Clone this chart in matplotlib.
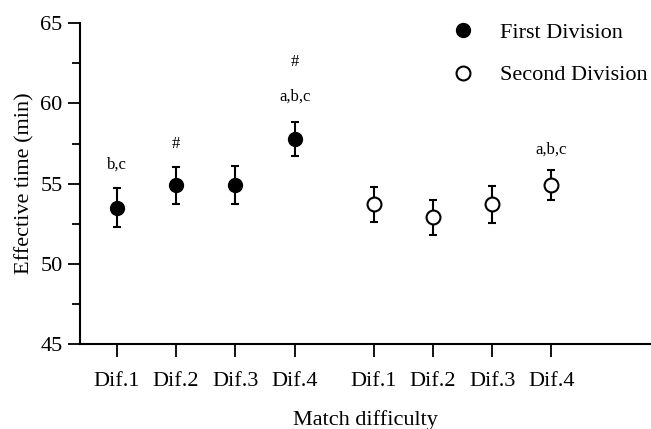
import matplotlib
matplotlib.use("Agg")
import matplotlib.pyplot as plt
from matplotlib.lines import Line2D
from matplotlib.ticker import MultipleLocator

plt.rcParams['font.family'] = ['Liberation Serif', 'DejaVu Serif']

# data
tick_labels = ["Dif.1", "Dif.2", "Dif.3", "Dif.4"]
first_x = [1, 2, 3, 4]
second_x = [5.33, 6.33, 7.33, 8.33]
first_mean = [53.5, 54.9, 54.9, 57.8]
first_err = [1.2, 1.15, 1.2, 1.05]
second_mean = [53.7, 52.9, 53.7, 54.9]
second_err = [1.1, 1.1, 1.15, 0.95]

# significance labels: (x, y, text)
annotations = [
    (1, 56.2, "b,c"),
    (2, 57.5, "#"),
    (4, 60.4, "a,b,c"),
    (4, 62.6, "#"),
    (8.33, 57.1, "a,b,c"),
]

fig = plt.figure(figsize=(6.51, 4.29), dpi=100)
ax = fig.add_axes([0.123, 0.198, 0.876, 0.748])

ax.errorbar(first_x, first_mean, yerr=first_err, fmt='o', color='black',
            markerfacecolor='black', markersize=10, elinewidth=1.5,
            capsize=3, capthick=1.5)
ax.errorbar(second_x, second_mean, yerr=second_err, fmt='o', color='black',
            markerfacecolor='white', markeredgewidth=1.5, markersize=10,
            elinewidth=1.5, capsize=3, capthick=1.5)

for x, y, t in annotations:
    ax.text(x, y, t, ha='center', va='center', fontsize=12)

ax.set_xlim(0.38, 10.0)
ax.set_ylim(45, 65)
ax.set_xticks(first_x + second_x)
ax.set_xticklabels(tick_labels * 2, fontsize=16)
ax.yaxis.set_major_locator(MultipleLocator(5))
ax.yaxis.set_minor_locator(MultipleLocator(2.5))
ax.tick_params(axis='y', labelsize=16, length=9, width=1.3)
ax.tick_params(axis='y', which='minor', length=6, width=1.3)
ax.tick_params(axis='x', length=9, width=1.3, pad=11)

for s in ['top', 'right']:
    ax.spines[s].set_visible(False)
for s in ['left', 'bottom']:
    ax.spines[s].set_linewidth(1.5)

ax.set_ylabel("Effective time (min)", fontsize=16)
ax.set_xlabel("Match difficulty", fontsize=16, labelpad=14)

handles = [
    Line2D([], [], marker='o', linestyle='none', color='black',
           markerfacecolor='black', markersize=10),
    Line2D([], [], marker='o', linestyle='none', color='black',
           markerfacecolor='white', markeredgewidth=1.5, markersize=10),
]
fig.legend(handles, ["First Division", "Second Division"], loc='upper left',
           bbox_to_anchor=(0.655, 0.995), frameon=False, fontsize=16,
           labelspacing=1.0, handletextpad=0.9, handlelength=1.5)

fig.savefig("out.png", dpi=100)
